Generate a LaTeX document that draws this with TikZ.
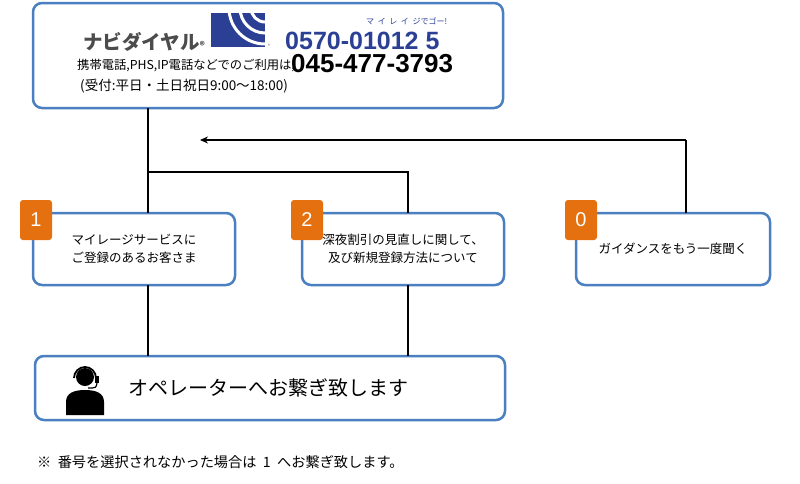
\documentclass[tikz,border=0pt]{standalone}
\usepackage{fontspec}
\setmainfont{Noto Sans CJK JP}
\newfontfamily\numf{Liberation Sans}
\usetikzlibrary{arrows.meta}
\definecolor{bblue}{HTML}{4A7FC1}
\definecolor{orng}{HTML}{E5700F}
\definecolor{navy}{HTML}{2B3F94}
\begin{document}
\begin{tikzpicture}[x=1pt,y=-1pt,
  box/.style={draw=bblue,line width=2.5pt,rounded corners=9pt,fill=white},
  badge/.style={fill=orng,rounded corners=3pt,text=white,font=\numf\fontsize{20}{20}\selectfont,inner sep=0pt,minimum width=32pt,minimum height=40pt},
  conn/.style={line width=2.2pt,black},
  lbl/.style={font=\fontsize{12.5}{18}\selectfont,align=center}]
\useasboundingbox (0,0) rectangle (800,483);
% top box
\draw[box] (33,3) rectangle (503,108);
\node[anchor=west,font=\bfseries\fontsize{19.5}{17}\selectfont,text=black!70,inner sep=0pt] (nd) at (83,42) {ナビダイヤル\fontsize{10}{10}\selectfont®};
\fill[navy] (211,13) rectangle (265,47);
\begin{scope}
\clip (211,13) rectangle (265,47);
\draw[white,line width=3pt] (265,8) circle[radius=14pt];
\draw[white,line width=3pt] (265,8) circle[radius=25pt];
\draw[white,line width=3pt] (265,8) circle[radius=36pt];
\end{scope}
\node[font=\fontsize{4}{4}\selectfont,navy] at (269,46) {®};
\node[anchor=west,font=\numf\bfseries\fontsize{25}{24}\selectfont,text=navy,inner sep=0pt] (num1) at (285,41) {0570-01012 5};
\node[anchor=west,font=\fontsize{8}{7}\selectfont,text=navy,inner sep=0pt] (mi) at (366,21) {マ\ \ イ\ \ レ\ \ イ\ \ ジでゴー!};
\node[anchor=west,font=\fontsize{12.3}{12}\selectfont,inner sep=0pt] (l2) at (77,65) {携帯電話,PHS,IP電話などでのご利用は,};
\node[anchor=west,font=\numf\bfseries\fontsize{26}{26}\selectfont,inner sep=0pt] (num2) at (291,64) {045-477-3793};
\node[anchor=west,font=\fontsize{13.5}{13}\selectfont,inner sep=0pt] (l3) at (80,86) {(受付:平日・土日祝日9:00〜18:00)};
% option boxes
\draw[box] (33,213) rectangle (235,285);
\node[lbl] (b1) at (134,249) {マイレージサービスに\\ご登録のあるお客さま};
\draw[box] (302,213) rectangle (504,285);
\node[lbl] (b2) at (403,249) {深夜割引の見直しに関して、\\及び新規登録方法について};
\draw[box] (576,213) rectangle (770,285);
\node[lbl] (b0) at (673,249) {ガイダンスをもう一度聞く};
\node[badge] (g1) at (36,220) {1};
\node[badge] (g2) at (307,220) {2};
\node[badge] (g0) at (581,220) {0};
% bottom box
\draw[box] (35,356) rectangle (505,420);
\node[anchor=west,font=\fontsize{20}{20}\selectfont,inner sep=0pt] (op) at (128,388) {オペレーターへお繋ぎ致します};
% icon
\fill[black] (66,415) -- (66,402) .. controls (66,393) and (74,390) .. (85,390) .. controls (96,390) and (104,393) .. (104,402) -- (104,415) -- cycle;
\fill[black] (85,377) circle[radius=9pt];
\draw[black,line width=1.8pt] (74,378) arc[start angle=180,end angle=0,radius=11pt];
\fill[black] (95,376) rectangle (99,383);
\draw[black,line width=1.2pt] (97,383) .. controls (96,388) .. (88,388);
% connectors
\coordinate (j1) at (148,172);
\coordinate (j2) at (408,172);
\coordinate (a1) at (686,140);
\coordinate (a2) at (200,140);
\draw[conn] (148,108) -- (148,213);
\draw[conn] (j1) -- (j2) -- (408,213);
\draw[conn] (686,213) -- (a1);
\draw[conn,-{Stealth[length=8pt,width=7pt]}] (a1) -- (a2);
\draw[conn] (148,285) -- (148,356);
\draw[conn] (408,285) -- (408,356);
% footnote
\node[anchor=west,font=\fontsize{14.2}{13}\selectfont,inner sep=0pt] (fn) at (37,462) {※\ \ 番号を選択されなかった場合は\ \ 1\ \ へお繋ぎ致します。};
\end{tikzpicture}
\end{document}
